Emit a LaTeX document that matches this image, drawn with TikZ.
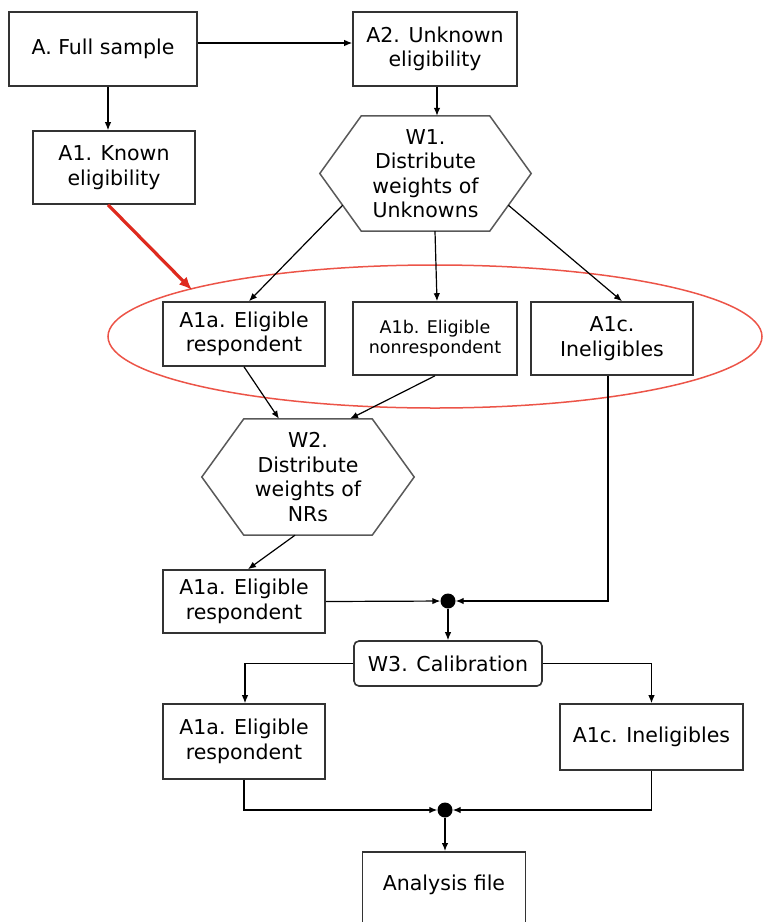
\documentclass[tikz,border=0pt]{standalone}
\usepackage{fontspec}
\setmainfont{DejaVu Sans}
\usetikzlibrary{arrows.meta,calc}
\definecolor{ringred}{RGB}{236,84,72}
\definecolor{arrowred}{RGB}{222,42,30}
\tikzset{
  box/.style={rectangle, draw=black!80, line width=1.6pt, fill=white, align=center, inner sep=2pt},
  hexnode/.style={rectangle, align=center, inner sep=0pt, minimum width=211pt, minimum height=115pt},
  hexline/.style={draw=black!65, line width=1.5pt},
  arr/.style={-{Latex[length=8pt,width=6.5pt]}, line width=1.2pt, black},
  dotnode/.style={circle, fill=black, minimum size=15pt, inner sep=0pt},
}

\begin{document}
\begin{tikzpicture}[x=1pt, y=-1pt, every node/.style={font=\fontsize{20.5}{24.5}\selectfont}]
\useasboundingbox (0,0) rectangle (763,922);
% Eligibility ring
\draw[ringred, line width=1.5pt] (435,336.5) ellipse [x radius=327, y radius=71.5];
% Top rows
\node[box, minimum width=188pt, minimum height=74pt] (full) at (103,49) {A. Full sample};
\node[box, minimum width=164pt, minimum height=74pt] (a2) at (435,49) {A2. Unknown\\eligibility};
\node[box, minimum width=162pt, minimum height=73pt] (a1) at (114,167.5) {A1. Known\\eligibility};
\node[hexnode] (w1) at (425.5,173.5) {W1.\\Distribute\\weights of\\Unknowns};
\draw[hexline] (w1.west) -- ([xshift=41.5pt]w1.north west) coordinate (w1tl) -- ([xshift=-41.5pt]w1.north east) -- (w1.east)
  -- ([xshift=-41.5pt]w1.south east) coordinate (w1br) -- ([xshift=41.5pt]w1.south west) coordinate (w1bl) -- cycle;
\coordinate (w1left) at ($(w1.west)!0.55!(w1bl)$);
\coordinate (w1right) at ($(w1.east)!0.55!(w1br)$);
% Known eligibility split
\node[box, minimum width=162pt, minimum height=64pt] (a1a) at (244,334) {A1a. Eligible\\respondent};
\node[box, minimum width=164pt, minimum height=73pt, font=\fontsize{17.5}{20}\selectfont] (a1b) at (435,338.5) {A1b. Eligible\\nonrespondent};
\node[box, minimum width=162pt, minimum height=73pt] (a1c) at (612,338.5) {A1c.\\Ineligibles};
\coordinate (redtip) at (192,290);
% Nonresponse step
\node[hexnode, minimum width=212pt, minimum height=116pt] (w2) at (308,477) {W2.\\Distribute\\weights of\\NRs};
\draw[hexline] (w2.west) -- ([xshift=42pt]w2.north west) -- ([xshift=-42pt]w2.north east) -- (w2.east)
  -- ([xshift=-42pt]w2.south east) -- ([xshift=42pt]w2.south west) -- cycle;
\node[box, minimum width=162pt, minimum height=63pt] (a1a2) at (244,601.5) {A1a. Eligible\\respondent};
\node[dotnode] (dot1) at (448,601) {};
% Calibration
\node[box, rounded corners=5pt, minimum width=188pt, minimum height=45pt] (w3) at (448,663.5) {W3. Calibration};
\node[box, minimum width=162pt, minimum height=75pt] (a1a3) at (244,741.5) {A1a. Eligible\\respondent};
\node[box, minimum width=183pt, minimum height=66pt] (a1c3) at (651.5,737) {A1c. Ineligibles};
\node[dotnode] (dot2) at (445,810) {};
\node[box, anchor=north, minimum width=163pt, inner sep=0pt, text height=39pt, text depth=50pt] (analysis) at (444,851) {Analysis file};
% Connectors
\draw[arr] ([yshift=6pt]full.east) -- ([yshift=6pt]a2.west);
\draw[arr] ([xshift=5pt]full.south) -- ([xshift=-6pt]a1.north);
\draw[arr] ([xshift=2pt]a2.south) -- ([xshift=2pt]a2.south |- w1.north);
\draw[arr] (w1left) -- ([xshift=5pt]a1a.north);
\draw[arr] (w1.south -| a1b.north) -- ([xshift=2pt]a1b.north);
\draw[arr] (w1right) -- ([xshift=10pt]a1c.north);
\draw[-{Latex[length=13pt,width=11pt]}, arrowred, line width=3.2pt] ([xshift=-6pt]a1.south) -- (redtip);
\draw[arr] (a1a.south) -- ([xshift=-29pt]w2.north);
\draw[arr] (a1b.south) -- ([xshift=42pt]w2.north);
\draw[arr] ([xshift=-13pt]w2.south) -- ([xshift=4pt]a1a2.north);
\draw[arr] (a1a2.east) -- (dot1);
\draw[arr] ([xshift=-4pt]a1c.south) |- (dot1);
\draw[arr] (dot1) -- (w3.north -| dot1);
\draw[arr] (w3.west) -| ([xshift=1pt]a1a3.north);
\draw[arr] (w3.east) -| (a1c3.north);
\draw[arr] (a1a3.south) |- (dot2);
\draw[arr] (a1c3.south) |- (dot2);
\draw[arr] (dot2) -- (analysis.north -| dot2);
\end{tikzpicture}
\end{document}
